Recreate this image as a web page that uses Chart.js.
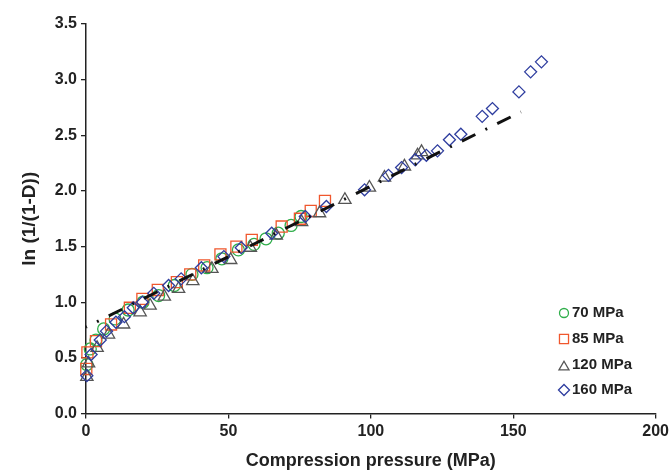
<!DOCTYPE html>
<html><head><meta charset="utf-8">
<script src="https://cdn.jsdelivr.net/npm/chart.js@4.4.0/dist/chart.umd.min.js"></script>
<style>html,body{margin:0;padding:0;background:#fff}#wrap{width:672px;height:475px}</style>
</head><body><div id="wrap"><canvas id="c" width="672" height="475"></canvas></div>
<script>
// ---- data ----
const seriesLabels = ['70 MPa', '85 MPa', '120 MPa', '160 MPa'];

const x70 = [0.3, 1.5, 3.5, 6.2, 10.2, 14.8, 20.0, 25.5, 31.0, 37.2, 42.5, 47.7, 53.5, 59.0, 63.2, 67.5, 72.0, 75.5];
const y70 = [0.44, 0.58, 0.66, 0.76, 0.85, 0.93, 1.00, 1.06, 1.15, 1.25, 1.31, 1.39, 1.47, 1.52, 1.57, 1.62, 1.69, 1.77];

const x85 = [0.1, 0.5, 3.5, 8.8, 15.4, 19.8, 25.2, 31.9, 36.6, 41.5, 47.2, 52.8, 58.2, 68.7, 75.1, 78.9, 83.9];
const y85 = [0.40, 0.55, 0.65, 0.80, 0.95, 1.03, 1.11, 1.18, 1.25, 1.33, 1.43, 1.50, 1.56, 1.68, 1.75, 1.82, 1.91];

const x120 = [0.3, 0.9, 3.9, 7.9, 13.2, 19.0, 22.5, 27.5, 32.5, 37.5, 44.2, 50.8, 57.7, 66.8, 75.7, 82.0, 90.9, 99.5, 104.8, 111.8, 116.4, 117.8];
const y120 = [0.33, 0.45, 0.59, 0.71, 0.80, 0.91, 0.97, 1.05, 1.12, 1.19, 1.30, 1.38, 1.49, 1.60, 1.72, 1.80, 1.92, 2.03, 2.12, 2.22, 2.32, 2.35];

const x160 = [0.3, 1.8, 5.0, 7.2, 10.5, 13.5, 16.6, 19.8, 23.8, 29.0, 33.4, 40.5, 48.4, 54.5, 65.2, 77.0, 84.4, 97.8, 106.2, 110.8, 115.6, 119.5, 123.4, 127.6, 131.6, 139.1, 142.7, 152.0, 156.1, 159.9];
const y160 = [0.34, 0.53, 0.66, 0.74, 0.82, 0.87, 0.95, 1.00, 1.08, 1.15, 1.21, 1.31, 1.41, 1.49, 1.62, 1.77, 1.86, 2.01, 2.14, 2.21, 2.28, 2.32, 2.36, 2.46, 2.51, 2.67, 2.74, 2.89, 3.07, 3.16];

const fitX = [0, 152.7];
const fitY = [0.776, 2.71];

const xTickValues = [0, 50, 100, 150, 200];
const yTickValues = [0, 0.5, 1.0, 1.5, 2.0, 2.5, 3.0, 3.5];

const xTitle = 'Compression pressure (MPa)';
const yTitle = 'ln (1/(1-D))';

// ---- build ----
const pts = (xs, ys) => xs.map((x, i) => ({x: x, y: ys[i]}));
const FONT = '"Liberation Sans", Arial, Helvetica, sans-serif';
const INK = '#222222';

const styles = [
  {color: '#2fae4a', pointStyle: 'circle', radius: 6, lr: 4.5},
  {color: '#f0572d', pointStyle: 'rect', radius: 7.8, lr: 6.4},
  {color: '#555555', pointStyle: 'triangle', radius: 7.1, lr: 5.8},
  {color: '#2e3d9f', pointStyle: 'rectRot', radius: 6, lr: 5.5}
];
const seriesX = [x70, x85, x120, x160];
const seriesY = [y70, y85, y120, y160];

const datasets = [{
  type: 'line',
  label: 'fit',
  data: pts(fitX, fitY),
  borderColor: '#111',
  borderWidth: 3,
  borderDash: [15, 11.2, 2, 11.2],
  borderDashOffset: 14,
  pointRadius: 0,
  fill: false,
  showLine: true,
  clip: false,
  order: 0
}];
seriesLabels.forEach((lab, i) => {
  datasets.push({
    type: 'scatter',
    label: lab,
    data: pts(seriesX[i], seriesY[i]),
    pointStyle: styles[i].pointStyle,
    pointRadius: styles[i].radius,
    pointHoverRadius: styles[i].radius,
    borderColor: styles[i].color,
    backgroundColor: 'rgba(0,0,0,0)',
    pointBorderWidth: 1.3,
    borderWidth: 1.3,
    clip: false,
    order: 4 - i
  });
});

function drawMarker(ctx, style, r, x, y) {
  ctx.beginPath();
  if (style === 'circle') {
    ctx.arc(x, y, r, 0, Math.PI * 2);
  } else if (style === 'rect') {
    const h = r * Math.SQRT1_2;
    ctx.rect(x - h, y - h, 2 * h, 2 * h);
  } else if (style === 'triangle') {
    for (let k = 0; k < 3; k++) {
      const a = k * 2 * Math.PI / 3;
      const px = x + Math.sin(a) * r, py = y - Math.cos(a) * r;
      if (k === 0) ctx.moveTo(px, py); else ctx.lineTo(px, py);
    }
    ctx.closePath();
  } else {
    ctx.moveTo(x - r, y); ctx.lineTo(x, y - r); ctx.lineTo(x + r, y); ctx.lineTo(x, y + r);
    ctx.closePath();
  }
  ctx.stroke();
}

const inLegend = {
  id: 'inLegend',
  afterDraw(chart) {
    const ctx = chart.ctx;
    const rows = [313, 339, 365, 390];
    ctx.save();
    ctx.font = 'bold 15px ' + FONT;
    ctx.textBaseline = 'middle';
    ctx.textAlign = 'left';
    seriesLabels.forEach((lab, i) => {
      ctx.strokeStyle = styles[i].color;
      ctx.lineWidth = 1.3;
      drawMarker(ctx, styles[i].pointStyle, styles[i].lr, 564, rows[i] + (i === 2 ? 2 : 0));
      ctx.fillStyle = INK;
      ctx.fillText(lab, 572, rows[i]);
    });
    ctx.restore();
  }
};

new Chart(document.getElementById('c'), {
  type: 'scatter',
  data: {datasets: datasets},
  plugins: [inLegend],
  options: {
    responsive: false,
    animation: false,
    devicePixelRatio: 1,
    layout: {padding: {top: 24, right: 16, left: 0, bottom: 0}},
    plugins: {legend: {display: false}, tooltip: {enabled: false}},
    scales: {
      x: {
        type: 'linear', min: 0, max: 200,
        afterBuildTicks: s => { s.ticks = xTickValues.map(v => ({value: v})); },
        afterFit: s => { s.height = 61.5; },
        ticks: {color: INK, font: {family: FONT, size: 16, weight: 'bold'}, padding: 3, maxRotation: 0},
        grid: {drawOnChartArea: false, drawTicks: true, tickLength: 5, color: INK, lineWidth: 1.3},
        border: {display: true, color: INK, width: 1.5},
        title: {display: true, text: xTitle, color: INK, font: {family: FONT, size: 18, weight: 'bold'}, padding: {top: 0, bottom: 3}}
      },
      y: {
        type: 'linear', min: 0, max: 3.5,
        afterBuildTicks: s => { s.ticks = yTickValues.map(v => ({value: v})); },
        afterFit: s => { s.width = 86; },
        ticks: {color: INK, font: {family: FONT, size: 16, weight: 'bold'}, padding: 4, callback: v => Number(v).toFixed(1)},
        grid: {drawOnChartArea: false, drawTicks: true, tickLength: 5, color: INK, lineWidth: 1.3},
        border: {display: true, color: INK, width: 1.5},
        title: {display: true, text: yTitle, color: INK, font: {family: FONT, size: 19, weight: 'bold'}, padding: {top: 18, bottom: 0}}
      }
    }
  }
});
</script>
</body></html>
